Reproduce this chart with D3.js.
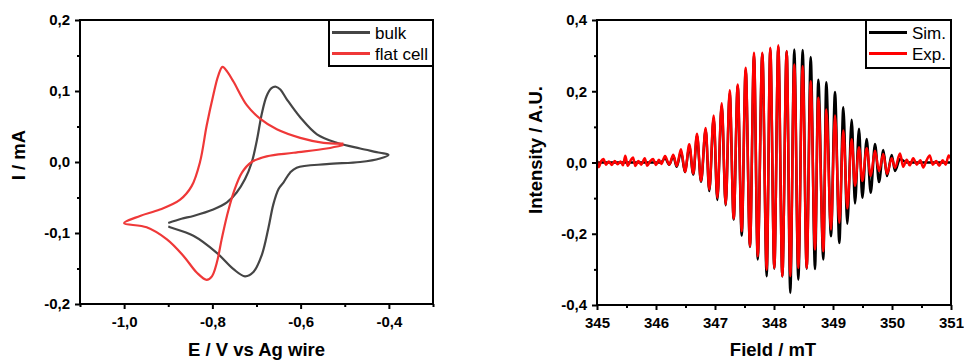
<html>
<head>
<style>
  body { margin: 0; background: #fff; }
  svg text { font-family: Arial, "Liberation Sans", sans-serif; }
  .tick text { font-weight: bold; font-size: 15px; fill: #000; }
  .tick line { stroke: #000; stroke-width: 2; }
  .title { font-weight: bold; font-size: 18.5px; fill: #000; }
  .legend text { font-size: 17px; fill: #000; }
</style>
<script src="https://cdn.jsdelivr.net/npm/d3@7"></script>
</head>
<body>
<svg width="964" height="360"></svg>
<script>
// ---- data: cyclic voltammograms [E (V), I (mA)], in sweep order
const cvBulk = [
  [-0.900,-0.086],[-0.870,-0.080],[-0.843,-0.076],[-0.798,-0.067],[-0.767,-0.057],[-0.745,-0.043],
  [-0.726,-0.024],[-0.711,-0.001],[-0.699,0.031],[-0.688,0.068],[-0.677,0.093],[-0.666,0.104],
  [-0.656,0.106],[-0.646,0.102],[-0.631,0.088],[-0.601,0.063],[-0.563,0.039],[-0.518,0.027],
  [-0.465,0.019],[-0.420,0.013],[-0.401,0.010],
  [-0.420,0.005],[-0.465,0.000],[-0.541,-0.003],[-0.609,-0.008],[-0.624,-0.015],[-0.639,-0.029],
  [-0.650,-0.038],[-0.662,-0.060],[-0.673,-0.093],[-0.688,-0.131],[-0.707,-0.155],[-0.726,-0.161],
  [-0.752,-0.151],[-0.790,-0.128],[-0.843,-0.104],[-0.896,-0.092],[-0.900,-0.091]
];
const cvFlat = [
  [-0.503,0.026],[-0.548,0.027],[-0.601,0.034],[-0.654,0.046],[-0.692,0.061],[-0.722,0.080],
  [-0.752,0.113],[-0.766,0.127],[-0.777,0.134],[-0.787,0.121],[-0.798,0.094],[-0.813,0.051],
  [-0.828,0.000],[-0.847,-0.034],[-0.873,-0.053],[-0.919,-0.067],[-0.964,-0.076],[-1.000,-0.086],
  [-0.949,-0.092],[-0.903,-0.109],[-0.866,-0.132],[-0.835,-0.156],[-0.813,-0.166],[-0.801,-0.161],
  [-0.790,-0.142],[-0.779,-0.109],[-0.767,-0.076],[-0.752,-0.043],[-0.733,-0.015],[-0.711,0.000],
  [-0.677,0.008],[-0.616,0.013],[-0.541,0.019],[-0.503,0.024]
];

// ---- data: EPR spectra [field (mT), intensity (A.U.)]
const esrSim = [
  [345.00,0],[346.08,0],
  [346.153,0.012],[346.225,-0.006],[346.293,0.018],[346.351,-0.012],[346.424,0.030],[346.492,-0.027],
  [346.564,0.045],[346.632,-0.034],[346.695,0.075],[346.763,-0.054],[346.842,0.092],[346.903,-0.080],
  [346.978,0.125],[347.039,-0.105],[347.114,0.160],[347.181,-0.120],[347.249,0.195],[347.317,-0.160],
  [347.385,0.215],[347.453,-0.205],[347.520,0.260],[347.593,-0.237],[347.661,0.300],[347.724,-0.272],
  [347.802,0.305],[347.876,-0.319],[347.937,0.318],[348.005,-0.298],[348.073,0.325],[348.141,-0.320],
  [348.215,0.312],[348.276,-0.366],[348.344,0.317],[348.412,-0.329],[348.486,0.316],[348.554,-0.298],
  [348.622,0.296],[348.695,-0.299],[348.751,0.232],[348.836,-0.272],[348.886,0.225],[348.966,-0.207],
  [349.034,0.198],[349.107,-0.226],[349.175,0.155],[349.242,-0.172],[349.317,0.120],[349.373,-0.115],
  [349.441,0.095],[349.497,-0.099],[349.571,0.066],[349.639,-0.085],[349.712,0.052],[349.780,-0.055],
  [349.853,0.035],[349.915,-0.038],[349.995,0.021],[350.051,-0.024],[350.136,0.010],[350.25,0],[351.00,0]
];
const esrExp = [
  [345.00,0.006],[345.03,-0.013],[345.07,0.004],[345.11,0.010],[345.15,-0.006],[345.20,0.003],
  [345.25,-0.007],[345.30,0.004],[345.35,-0.005],[345.40,0.003],[345.44,-0.008],[345.48,0.019],
  [345.52,-0.009],[345.57,0.006],[345.61,0.014],[345.65,-0.010],[345.70,0.004],[345.75,-0.006],
  [345.81,0.012],[345.85,-0.009],[345.90,0.003],[345.95,0.010],[346.00,-0.007],[346.05,0.008],
  [346.09,-0.004],
  [346.153,0.018],[346.225,-0.006],[346.293,0.022],[346.351,-0.010],[346.424,0.037],[346.492,-0.027],
  [346.564,0.051],[346.632,-0.031],[346.695,0.081],[346.763,-0.052],[346.842,0.097],[346.903,-0.076],
  [346.978,0.132],[347.039,-0.099],[347.114,0.166],[347.181,-0.118],[347.249,0.203],[347.317,-0.158],
  [347.385,0.219],[347.453,-0.193],[347.520,0.266],[347.593,-0.235],[347.661,0.308],[347.724,-0.263],
  [347.802,0.308],[347.876,-0.301],[347.937,0.322],[348.005,-0.296],[348.073,0.329],[348.141,-0.319],
  [348.215,0.313],[348.276,-0.319],[348.344,0.275],[348.412,-0.296],[348.486,0.270],[348.554,-0.296],
  [348.622,0.228],[348.695,-0.244],[348.751,0.182],[348.836,-0.249],[348.886,0.149],[348.966,-0.188],
  [349.034,0.132],[349.107,-0.169],[349.175,0.090],[349.242,-0.129],[349.317,0.065],[349.373,-0.065],
  [349.441,0.043],[349.497,-0.052],[349.571,0.040],[349.639,-0.038],[349.712,0.033],[349.780,-0.024],
  [349.853,0.024],[349.915,-0.032],[349.995,0.012],[350.051,-0.015],[350.136,0.025],[350.19,-0.012],
  [350.25,0.008],[350.30,-0.008],[350.36,0.012],[350.42,-0.006],[350.48,0.006],[350.53,-0.014],
  [350.58,0.004],[350.64,0.020],[350.69,-0.006],[350.75,0.004],[350.80,-0.009],[350.86,0.006],
  [350.91,-0.006],[350.96,0.020],[351.00,0.010]
];

// ---- ticks
const cvXMajor = [-1.0, -0.8, -0.6, -0.4];
const cvXMinor = [-1.1, -0.9, -0.7, -0.5, -0.3];
const cvYMajor = [-0.2, -0.1, 0.0, 0.1, 0.2];
const cvYMinor = [-0.15, -0.05, 0.05, 0.15];
const esrXMajor = [345, 346, 347, 348, 349, 350, 351];
const esrXMinor = [345.5, 346.5, 347.5, 348.5, 349.5, 350.5];
const esrYMajor = [-0.4, -0.2, 0.0, 0.2, 0.4];
const esrYMinor = [-0.3, -0.1, 0.1, 0.3];

const cvSeries = [
  {name: "bulk", color: "#454545", values: cvBulk},
  {name: "flat cell", color: "#ef3838", values: cvFlat}
];
const esrSeries = [
  {name: "Sim.", color: "#000000", values: esrSim},
  {name: "Exp.", color: "#ff0000", values: esrExp}
];

const loc = d3.formatLocale({decimal: ",", thousands: ".", grouping: [3], currency: ["", ""], minus: "-"});
const fmt1 = loc.format(".1f");

const svg = d3.select("svg");

function panel(cfg) {
  const g = svg.append("g");
  const x = d3.scaleLinear().domain(cfg.xDomain).range([cfg.x0, cfg.x1]);
  const y = d3.scaleLinear().domain(cfg.yDomain).range([cfg.y1, cfg.y0]);

  // minor ticks
  g.append("g").attr("transform", "translate(0," + cfg.y1 + ")")
    .call(d3.axisBottom(x).tickValues(cfg.xMinor).tickSize(3).tickFormat(""))
    .call(a => a.select(".domain").remove());
  g.append("g").attr("transform", "translate(" + cfg.x0 + ",0)")
    .call(d3.axisLeft(y).tickValues(cfg.yMinor).tickSize(3).tickFormat(""))
    .call(a => a.select(".domain").remove());
  // major ticks
  g.append("g").attr("transform", "translate(0," + cfg.y1 + ")")
    .call(d3.axisBottom(x).tickValues(cfg.xMajor).tickSize(5).tickPadding(7).tickFormat(cfg.xFmt))
    .call(a => a.select(".domain").remove());
  g.append("g").attr("transform", "translate(" + cfg.x0 + ",0)")
    .call(d3.axisLeft(y).tickValues(cfg.yMajor).tickSize(5).tickPadding(5).tickFormat(fmt1))
    .call(a => a.select(".domain").remove());

  const line = d3.line().x(d => x(d[0])).y(d => y(d[1])).curve(cfg.curve);
  g.selectAll("path.series").data(cfg.series).enter().append("path")
    .attr("class", "series")
    .attr("fill", "none")
    .attr("stroke", d => d.color)
    .attr("stroke-width", cfg.lw)
    .attr("stroke-linejoin", "round")
    .attr("d", d => line(d.values));

  // frame
  g.append("rect").attr("x", cfg.x0).attr("y", cfg.y0)
    .attr("width", cfg.x1 - cfg.x0).attr("height", cfg.y1 - cfg.y0)
    .attr("fill", "none").attr("stroke", "#000").attr("stroke-width", 2);

  // legend
  const lg = g.append("g").attr("class", "legend");
  lg.append("rect").attr("x", cfg.legX).attr("y", cfg.y0)
    .attr("width", cfg.x1 - cfg.legX).attr("height", cfg.legH)
    .attr("fill", "#fff").attr("stroke", "#000").attr("stroke-width", 2);
  cfg.series.forEach((s, i) => {
    const ly = cfg.y0 + 12.5 + i * 21;
    lg.append("line").attr("x1", cfg.legX + 3).attr("x2", cfg.legX + 41)
      .attr("y1", ly).attr("y2", ly).attr("stroke", s.color).attr("stroke-width", 3);
    lg.append("text").attr("x", cfg.legX + 46).attr("y", ly + 6).text(s.name);
  });

  // axis titles
  g.append("text").attr("class", "title").attr("text-anchor", "middle")
    .attr("x", (cfg.x0 + cfg.x1) / 2 + cfg.xTitleShift).attr("y", 356).text(cfg.xTitle);
  g.append("text").attr("class", "title").attr("text-anchor", "middle")
    .attr("transform", "translate(" + cfg.yTitleX + "," + cfg.yTitleY + ") rotate(-90)")
    .text(cfg.yTitle);
}

panel({
  x0: 80, x1: 433, y0: 20, y1: 304,
  xDomain: [-1.1, -0.3], yDomain: [-0.2, 0.2],
  xMajor: cvXMajor, xMinor: cvXMinor, yMajor: cvYMajor, yMinor: cvYMinor,
  xFmt: fmt1, series: cvSeries, lw: 2.2, curve: d3.curveCatmullRom.alpha(0.5),
  legX: 329, legH: 46,
  xTitle: "E / V vs Ag wire", xTitleShift: 0, yTitle: "I / mA", yTitleX: 25, yTitleY: 155
});

panel({
  x0: 597, x1: 951, y0: 20, y1: 305,
  xDomain: [345, 351], yDomain: [-0.4, 0.4],
  xMajor: esrXMajor, xMinor: esrXMinor, yMajor: esrYMajor, yMinor: esrYMinor,
  xFmt: d3.format("d"), series: esrSeries, lw: 2.5, curve: d3.curveMonotoneX,
  legX: 866, legH: 48,
  xTitle: "Field / mT", xTitleShift: -1, yTitle: "Intensity / A.U.", yTitleX: 542, yTitleY: 150
});
</script>
</body>
</html>
